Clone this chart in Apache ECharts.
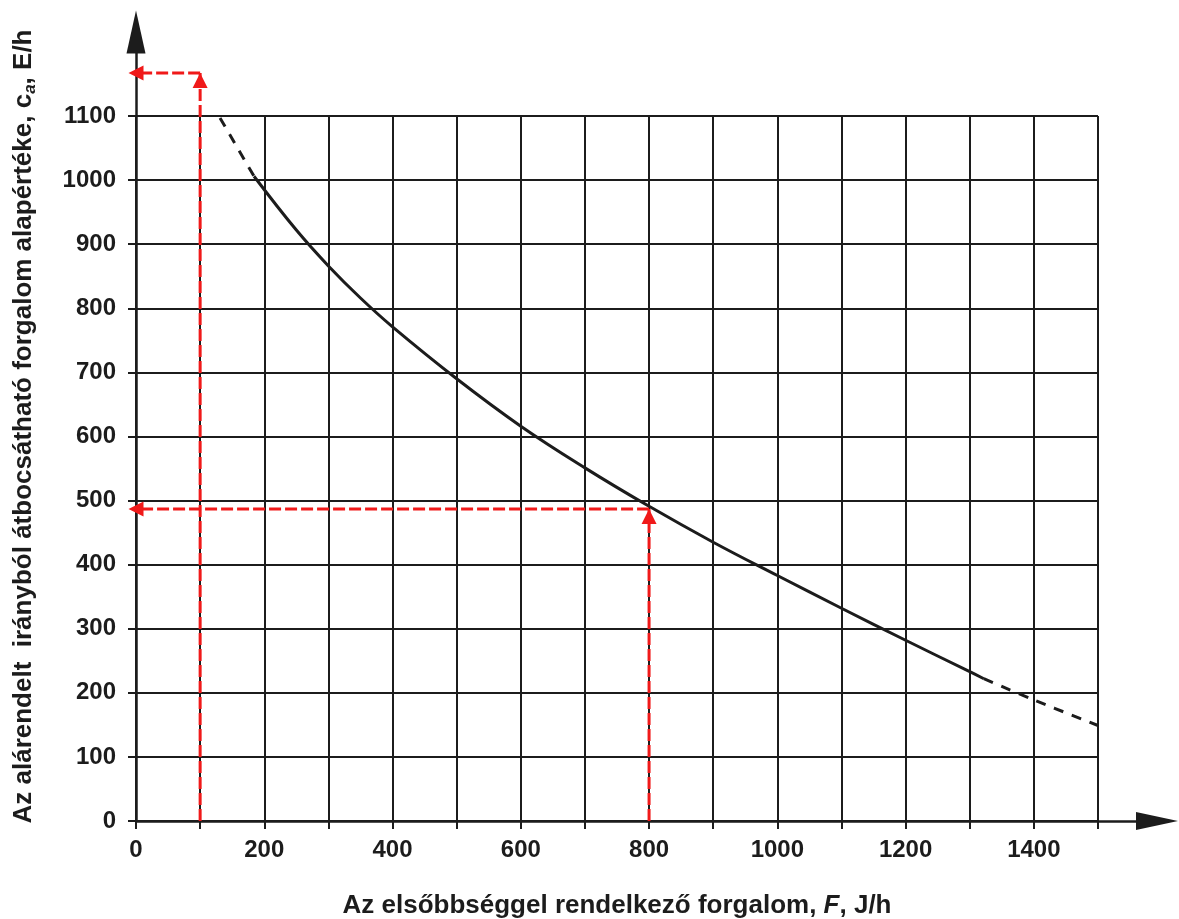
<!DOCTYPE html>
<html>
<head>
<meta charset="utf-8">
<script src="https://cdn.jsdelivr.net/npm/echarts/dist/echarts.min.js"></script>
<style>
  html, body { margin: 0; padding: 0; background: #fff; }
  #chart { width: 1179px; height: 919px; }
</style>
</head>
<body>
<div id="chart"></div>
<script>
// görbe (leolvasott pontok)
var curveF = [184, 250, 300, 350, 400, 500, 600, 700, 800, 900, 1000, 1100, 1200, 1300, 1322];
var curveC = [1006, 922, 866, 816, 771, 690, 616, 551, 491, 435, 383, 332, 282, 233, 222];
// szaggatott folytatás
var dashLeftF = [131, 184];
var dashLeftC = [1097, 1006];
var dashRightF = [1322, 1400, 1500];
var dashRightC = [222, 189, 149];
// piros leolvasások
var readF = [100, 800];
var readC = [1167, 487];

var xTicks = { min: 0, max: 1500, step: 100, labelStep: 200 };
var yTicks = { min: 0, max: 1100, step: 100 };

function pairs(xs, ys) {
    return xs.map(function (x, i) { return [x, ys[i]]; });
}

var ink = '#1c1c1c';
var red = '#f01919';
var font = 'Liberation Sans, Arial, sans-serif';

var redSeries = [];
readF.forEach(function (f, i) {
    var c = readC[i];
    // függőleges nyíl felfelé
    redSeries.push({
        type: 'line', xAxisIndex: 0, yAxisIndex: 0, clip: false, silent: true,
        symbol: 'none', showSymbol: true, z: 5,
        lineStyle: { color: red, width: 3, type: [12, 4] },
        itemStyle: { color: red },
        data: [
            [f, 0],
            { value: [f, c], symbol: 'triangle', symbolSize: [15, 15], symbolOffset: [0, '50%'] }
        ]
    });
    // vízszintes nyíl balra
    redSeries.push({
        type: 'line', xAxisIndex: 0, yAxisIndex: 0, clip: false, silent: true,
        symbol: 'none', showSymbol: true, z: 5,
        lineStyle: { color: red, width: 3, type: [12, 4] },
        itemStyle: { color: red },
        data: [
            [f, c],
            { value: [0, c], symbol: 'triangle', symbolSize: [15, 15], symbolRotate: 90 }
        ]
    });
});

var chart = echarts.init(document.getElementById('chart'));
var option = {
    animation: false,
    backgroundColor: '#fff',
    grid: [
        { left: 136, right: 81, top: 116, bottom: 98, outerBoundsMode: 'none' },
        { left: 136, right: 22, top: 32, bottom: 98, outerBoundsMode: 'none' }
    ],
    xAxis: [
        {
            gridIndex: 0, type: 'value',
            min: xTicks.min, max: xTicks.max, interval: xTicks.step,
            axisLine: { show: false },
            axisTick: { show: true, length: 8, lineStyle: { color: ink, width: 2 } },
            splitLine: { show: true, lineStyle: { color: ink, width: 2 } },
            axisLabel: {
                margin: 17, color: ink, fontSize: 24, fontWeight: 'bold', fontFamily: font,
                formatter: function (v) { return v % xTicks.labelStep === 0 ? String(v) : ''; }
            },
            name: 'Az elsőbbséggel rendelkező forgalom, {i|F}, J/h',
            nameLocation: 'middle',
            nameGap: 72,
            nameTextStyle: {
                color: ink, fontSize: 26, fontWeight: 'bold', fontFamily: font,
                rich: { i: { color: ink, fontSize: 26, fontWeight: 'bold', fontStyle: 'italic', fontFamily: font } }
            }
        },
        {
            gridIndex: 1, type: 'value', min: 0, max: 1,
            axisLine: { show: true, symbol: ['none', 'triangle'], symbolSize: [18, 42], lineStyle: { color: ink, width: 2.5 } },
            axisTick: { show: false }, axisLabel: { show: false }, splitLine: { show: false }
        }
    ],
    yAxis: [
        {
            gridIndex: 0, type: 'value',
            min: yTicks.min, max: yTicks.max, interval: yTicks.step,
            axisLine: { show: false },
            axisTick: { show: true, length: 8, lineStyle: { color: ink, width: 2 } },
            splitLine: { show: true, lineStyle: { color: ink, width: 2 } },
            axisLabel: {
                margin: 20, color: ink, fontSize: 24, fontWeight: 'bold', fontFamily: font,
                formatter: function (v) { return String(v); }
            }
        },
        {
            gridIndex: 1, type: 'value', min: 0, max: 1,
            axisLine: { show: true, symbol: ['none', 'triangle'], symbolSize: [19, 43], lineStyle: { color: ink, width: 2.5 } },
            axisTick: { show: false }, axisLabel: { show: false }, splitLine: { show: false },
            name: 'Az alárendelt  irányból átbocsátható forgalom alapértéke, c{sub|a}, E/h',
            nameLocation: 'middle',
            nameGap: 97,
            nameTextStyle: {
                color: ink, fontSize: 26, fontWeight: 'bold', fontFamily: font, lineHeight: 30,
                rich: {
                    sub: { color: ink, fontSize: 17, fontWeight: 'bold', fontStyle: 'italic', fontFamily: font,
                           verticalAlign: 'bottom', lineHeight: 30 }
                }
            }
        }
    ],
    series: [
        {
            type: 'line', xAxisIndex: 0, yAxisIndex: 0, smooth: 0.4, symbol: 'none', silent: true, z: 4,
            lineStyle: { color: ink, width: 3 },
            data: pairs(curveF, curveC)
        },
        {
            type: 'line', xAxisIndex: 0, yAxisIndex: 0, symbol: 'none', silent: true, z: 4,
            lineStyle: { color: ink, width: 3, type: [10, 9] },
            data: pairs(dashLeftF, dashLeftC)
        },
        {
            type: 'line', xAxisIndex: 0, yAxisIndex: 0, smooth: 0.4, symbol: 'none', silent: true, z: 4,
            lineStyle: { color: ink, width: 3, type: [10, 9] },
            data: pairs(dashRightF, dashRightC)
        }
    ].concat(redSeries)
};
chart.setOption(option);
</script>
</body>
</html>
